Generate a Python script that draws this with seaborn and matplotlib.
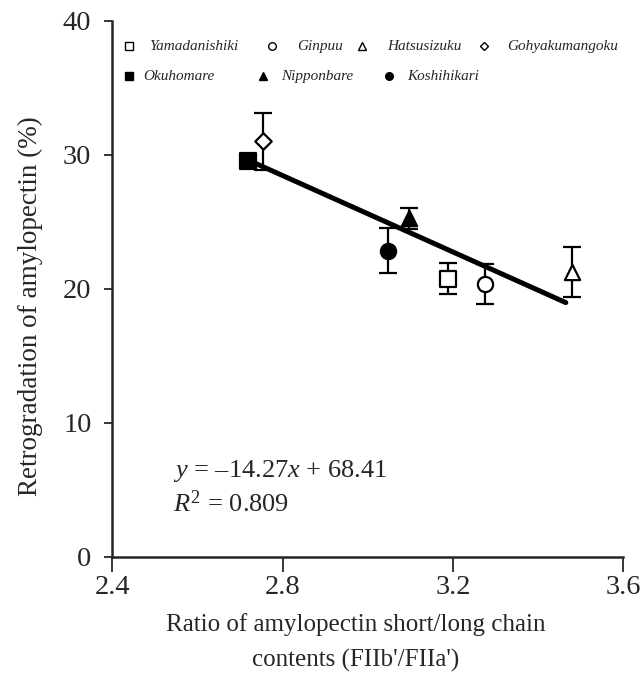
import numpy as np
import pandas as pd
import matplotlib
matplotlib.use("Agg")
import matplotlib.pyplot as plt
import seaborn as sns

# ---- data ----
varieties = ["Yamadanishiki", "Ginpuu", "Hatsusizuku", "Gohyakumangoku",
             "Okuhomare", "Nipponbare", "Koshihikari"]
ratio = [3.189, 3.275, 3.479, 2.755, 2.718, 3.097, 3.047]
retro = [20.75, 20.37, 21.24, 31.0, 29.55, 25.25, 22.85]
err = [1.15, 1.5, 1.85, 2.1, 0.0, 0.78, 1.65]
markers = ["s", "o", "^", "D", "s", "^", "o"]
filled = [False, False, False, False, True, True, True]

slope = -14.27
intercept = 68.41
fit_x = [2.72, 3.465]
r2 = 0.809

x_ticks = [2.4, 2.8, 3.2, 3.6]
y_ticks = [0, 10, 20, 30, 40]

df = pd.DataFrame({"variety": varieties, "ratio": ratio, "retro": retro,
                   "err": err, "marker": markers, "filled": filled})
fit_df = pd.DataFrame({"x": fit_x})
fit_df["y"] = slope * fit_df["x"] + intercept

# ---- style ----
sns.set_style("ticks")
plt.rcParams["font.family"] = ["Liberation Serif", "DejaVu Serif"]
plt.rcParams["mathtext.fontset"] = "custom"
plt.rcParams["mathtext.rm"] = "Liberation Serif"
plt.rcParams["mathtext.it"] = "Liberation Serif:italic"

fig = plt.figure(figsize=(6.41, 6.79), dpi=100)
ax = fig.add_axes([0.1752, 0.1804, 0.7972, 0.7887])

# regression line
sns.lineplot(data=fit_df, x="x", y="y", ax=ax, color="black", linewidth=3.6,
             zorder=2)

# error bars
ax.errorbar(df["ratio"], df["retro"], yerr=df["err"], fmt="none",
            ecolor="black", elinewidth=1.6, capsize=6.5, capthick=1.6,
            zorder=3)

# points
for _, r in df.iterrows():
    sub = df[df["variety"] == r["variety"]]
    size = 70 if r["marker"] == "D" else 120
    sns.scatterplot(data=sub, x="ratio", y="retro", ax=ax,
                    marker=r["marker"], s=size,
                    color="black" if r["filled"] else "white",
                    edgecolor="black", linewidth=1.6, zorder=4, legend=False)

# manual legend (two rows)
leg_rows = [
    [(0, 0.0335, 0.073), (1, 0.3125, 0.361), (2, 0.4895, 0.538), (3, 0.7275, 0.772)],
    [(4, 0.0335, 0.061), (5, 0.295, 0.331), (6, 0.5405, 0.5765)],
]
row_y = [0.953, 0.897]
for row, yy in zip(leg_rows, row_y):
    for idx, mx, tx in row:
        ax.plot([mx], [yy], transform=ax.transAxes, marker=markers[idx],
                markersize=4.5 if markers[idx] == "D" else 5.5,
                markerfacecolor="black" if filled[idx] else "white",
                markeredgecolor="black", markeredgewidth=1.0,
                linestyle="none", clip_on=False)
        ax.text(tx, yy, varieties[idx], transform=ax.transAxes,
                fontsize=11, fontstyle="italic", va="center", ha="left")

# equation
ax.text(0.118, 0.160, "$y$ = \u2013" + f"{abs(slope):.2f}" + "$x$ + " + f"{intercept:.2f}",
        transform=ax.transAxes, fontsize=19, va="center", ha="left")
ax.text(0.118, 0.098, "$R^2$ = " + f"{r2:.3f}", transform=ax.transAxes,
        fontsize=19, va="center", ha="left")

# axes
ax.set_xlim(2.4, 3.6)
ax.set_ylim(0, 40)
ax.set_xticks(x_ticks)
ax.set_xticklabels([f"{v:.1f}" for v in x_ticks])
ax.set_yticks(y_ticks)
ax.set_yticklabels([str(v) for v in y_ticks])
ax.tick_params(axis="x", direction="out", length=11, width=1.3, pad=2,
               labelsize=20.5)
ax.tick_params(axis="y", direction="out", length=6, width=1.3, pad=9,
               labelsize=20.5)
for s in ["left", "bottom"]:
    ax.spines[s].set_linewidth(1.8)
for s in ["top", "right"]:
    ax.spines[s].set_visible(False)

ax.set_xlabel("Ratio of amylopectin short/long chain\ncontents (FIIb'/FIIa')",
              fontsize=18, linespacing=1.75)
ax.set_ylabel("Retrogradation of amylopectin (%)", fontsize=19.5)
ax.xaxis.set_label_coords(0.476, -0.105, transform=ax.transAxes)
ax.yaxis.set_label_coords(-0.136, 0.468, transform=ax.transAxes)
ax.xaxis.label.set_va("top")

fig.savefig("out.png", dpi=100)
